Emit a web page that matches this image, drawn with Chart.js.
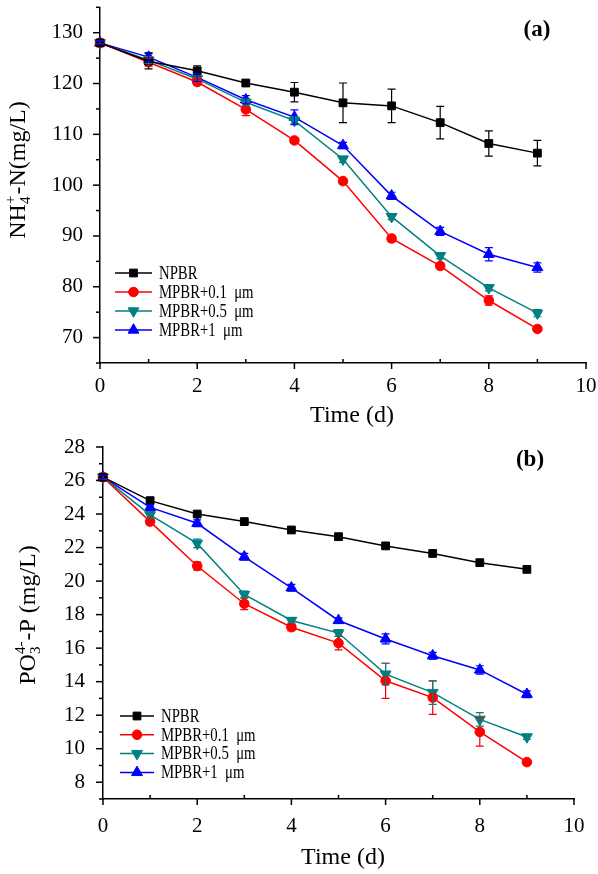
<!DOCTYPE html>
<html>
<head>
<meta charset="utf-8">
<script src="https://cdn.jsdelivr.net/npm/chart.js@4.4.1/dist/chart.umd.min.js"></script>
<style>
  body { margin: 0; background: #fff; }
  .panel { width: 598px; height: 437px; }
</style>
</head>
<body>
<div class="panel"><canvas id="ca" width="598" height="437"></canvas></div>
<div class="panel"><canvas id="cb" width="598" height="437"></canvas></div>
<script>
// sampling days
var days = [0, 1, 2, 3, 4, 5, 6, 7, 8, 9];
var seriesNames = ['NPBR', 'MPBR+0.1 μm', 'MPBR+0.5 μm', 'MPBR+1 μm'];

// (a) NH4+-N (mg/L)
var nNPBR    = [128.0, 124.4, 122.5, 120.1, 118.3, 116.2, 115.6, 112.3, 108.2, 106.3];
var nErrNPBR = [0.4, 1.5, 1.0, 0.5, 1.9, 3.9, 3.3, 3.2, 2.5, 2.5];
var nM01     = [128.0, 124.2, 120.3, 114.9, 108.8, 100.8, 89.5, 84.1, 77.3, 71.7];
var nErrM01  = [0.3, 0.8, 0.6, 1.2, 0.5, 0.4, 0.6, 0.6, 0.9, 0.4];
var nM05     = [128.0, 124.6, 120.9, 116.3, 112.7, 105.1, 93.8, 86.1, 79.8, 74.8];
var nErrM05  = [0.3, 0.7, 0.6, 0.7, 0.8, 0.6, 0.6, 0.6, 0.6, 0.7];
var nM1      = [128.0, 125.2, 121.2, 116.8, 113.4, 107.8, 97.9, 90.9, 86.4, 83.8];
var nErrM1   = [0.3, 0.9, 0.8, 0.8, 1.4, 0.6, 0.7, 0.8, 1.3, 0.9];

// (b) PO4-P (mg/L)
var pNPBR    = [26.2, 24.8, 24.0, 23.55, 23.05, 22.65, 22.1, 21.65, 21.1, 20.7];
var pErrNPBR = [0.1, 0.1, 0.1, 0.1, 0.1, 0.1, 0.1, 0.1, 0.1, 0.1];
var pM01     = [26.2, 23.55, 20.9, 18.65, 17.25, 16.3, 14.05, 13.05, 11.0, 9.2];
var pErrM01  = [0.1, 0.2, 0.25, 0.35, 0.2, 0.4, 1.05, 1.0, 0.85, 0.1];
var pM05     = [26.2, 23.95, 22.25, 19.2, 17.65, 16.9, 14.45, 13.35, 11.75, 10.7];
var pErrM05  = [0.1, 0.2, 0.25, 0.2, 0.15, 0.2, 0.65, 0.7, 0.4, 0.15];
var pM1      = [26.2, 24.4, 23.45, 21.45, 19.6, 17.65, 16.55, 15.55, 14.7, 13.25];
var pErrM1   = [0.1, 0.15, 0.2, 0.2, 0.2, 0.15, 0.3, 0.2, 0.25, 0.2];

var colors = ['#000000', '#ff0000', '#008080', '#0000ff'];
var styles = ['rect', 'circle', 'triangle', 'triangle'];
var rotations = [0, 0, 180, 0];
var radii = [5.5, 4.8, 6.3, 6.3];

var SERIF = "'Liberation Serif', 'DejaVu Serif', serif";

function makeSet(i, values, errs) {
    return {
        label: seriesNames[i],
        data: values.map(function(v, k) { return {x: days[k], y: v}; }),
        errs: errs,
        borderColor: colors[i],
        backgroundColor: colors[i],
        pointStyle: styles[i],
        pointRotation: rotations[i],
        pointRadius: radii[i],
        pointBorderWidth: 1,
        borderWidth: 1.5,
        tension: 0,
        clip: false
    };
}

// error bars, tick marks, legend, titles
var deco = {
    id: 'deco',
    afterDatasetsDraw: function(chart) {
        var ctx = chart.ctx, ys = chart.scales.y;
        ctx.save();
        ctx.lineWidth = 1.2;
        chart.data.datasets.forEach(function(ds, di) {
            var meta = chart.getDatasetMeta(di);
            ctx.strokeStyle = ds.borderColor;
            ds.errs.forEach(function(e, k) {
                var x = meta.data[k].x;
                var yt = ys.getPixelForValue(ds.data[k].y + e);
                var yb = ys.getPixelForValue(ds.data[k].y - e);
                ctx.beginPath();
                ctx.moveTo(x, yt); ctx.lineTo(x, yb);
                ctx.moveTo(x - 4, yt); ctx.lineTo(x + 4, yt);
                ctx.moveTo(x - 4, yb); ctx.lineTo(x + 4, yb);
                ctx.stroke();
            });
        });
        ctx.restore();
    },
    afterDraw: function(chart, args, o) {
        var ctx = chart.ctx, xs = chart.scales.x, ys = chart.scales.y;
        var area = chart.chartArea;
        ctx.save();
        ctx.strokeStyle = '#000';
        ctx.lineWidth = 1.5;
        // x ticks: major outward, minor inward
        xs.ticks.forEach(function(t) {
            var px = xs.getPixelForValue(t.value);
            var major = t.label !== '';
            ctx.beginPath();
            ctx.moveTo(px, area.bottom);
            ctx.lineTo(px, major ? area.bottom + 6 : area.bottom - 4);
            ctx.stroke();
        });
        ys.ticks.forEach(function(t) {
            var py = ys.getPixelForValue(t.value);
            var major = t.label !== '';
            ctx.beginPath();
            ctx.moveTo(area.left, py);
            ctx.lineTo(area.left - (major ? 7 : 4), py);
            ctx.stroke();
        });

        // legend
        var lg = o.legend;
        chart.data.datasets.forEach(function(ds, di) {
            var y = lg.y + di * lg.gap;
            ctx.strokeStyle = ds.borderColor;
            ctx.fillStyle = ds.backgroundColor;
            ctx.lineWidth = 1.5;
            ctx.beginPath();
            ctx.moveTo(lg.x, y); ctx.lineTo(lg.x + lg.len, y);
            ctx.stroke();
            ctx.lineWidth = 1;
            Chart.helpers.drawPoint(ctx, {pointStyle: ds.pointStyle, rotation: ds.pointRotation,
                radius: ds.pointRadius, borderWidth: 1}, lg.x + lg.len / 2, y);
            ctx.save();
            ctx.fillStyle = '#000';
            ctx.font = '18px ' + SERIF;
            ctx.textBaseline = 'middle';
            ctx.translate(lg.x + lg.len + 7, y);
            ctx.scale(0.82, 1);
            ctx.fillText(ds.label.replace(' ', '  '), 0, 1);
            ctx.restore();
        });

        ctx.fillStyle = '#000';
        // panel label
        ctx.font = 'bold 23px ' + SERIF;
        ctx.textAlign = 'center';
        ctx.textBaseline = 'middle';
        ctx.fillText(o.tag.text, o.tag.x, o.tag.y);
        // x title
        ctx.font = '24px ' + SERIF;
        ctx.fillText('Time (d)', o.xTitle.x, o.xTitle.y);

        // y title with sub/superscripts, rotated
        var parts = o.yTitle.parts;
        var big = '24px ' + SERIF, small = '15px ' + SERIF;
        var widths = parts.map(function(p) {
            if (p.t) { ctx.font = big; return ctx.measureText(p.t).width; }
            ctx.font = small;
            return Math.max(ctx.measureText(p.sub || '').width, ctx.measureText(p.sup || '').width) + 1;
        });
        var total = widths.reduce(function(a, b) { return a + b; }, 0);
        ctx.translate(o.yTitle.x, o.yTitle.y);
        ctx.rotate(-Math.PI / 2);
        ctx.textAlign = 'left';
        ctx.textBaseline = 'alphabetic';
        var cx = -total / 2;
        parts.forEach(function(p, i) {
            if (p.t) {
                ctx.font = big;
                ctx.fillText(p.t, cx, 0);
            } else {
                ctx.font = small;
                if (p.sub) ctx.fillText(p.sub, cx, 5);
                if (p.sup) ctx.fillText(p.sup, cx, -10);
            }
            cx += widths[i];
        });
        ctx.restore();
    }
};

function baseOptions(o) {
    return {
        responsive: false,
        animation: false,
        layout: {padding: o.padding},
        plugins: {
            legend: {display: false},
            tooltip: {enabled: false},
            deco: o.deco
        },
        scales: {
            x: {
                type: 'linear',
                min: 0, max: 10,
                ticks: {
                    stepSize: 1, autoSkip: false, maxRotation: 0,
                    color: '#000', padding: o.xPad,
                    font: {family: SERIF, size: 21},
                    callback: function(v) { return v % 2 === 0 ? String(v) : ''; }
                },
                grid: {display: false, drawTicks: false},
                border: {display: true, color: '#000', width: 1.5},
                afterFit: function(s) { s.height = o.xHeight; s.paddingLeft = 0; s.paddingRight = 0; }
            },
            y: {
                min: o.yMin, max: o.yMax,
                ticks: {
                    stepSize: o.yStep, autoSkip: false,
                    color: '#000', padding: o.yPad,
                    font: {family: SERIF, size: 21},
                    callback: o.yLabel
                },
                grid: {display: false, drawTicks: false},
                border: {display: true, color: '#000', width: 1.5},
                afterFit: function(s) { s.width = o.yWidth; s.paddingTop = 0; s.paddingBottom = 0; }
            }
        }
    };
}

new Chart(document.getElementById('ca'), {
    type: 'line',
    data: {datasets: [
        makeSet(0, nNPBR, nErrNPBR),
        makeSet(1, nM01, nErrM01),
        makeSet(2, nM05, nErrM05),
        makeSet(3, nM1, nErrM1)
    ]},
    options: baseOptions({
        padding: {top: 3, right: 12, left: 0, bottom: 0},
        xHeight: 74, yWidth: 100, xPad: 11, yPad: 17,
        yMin: 65, yMax: 135, yStep: 5,
        yLabel: function(v) { return (v % 10 === 0) ? String(v) : ''; },
        deco: {
            legend: {x: 115, y: 273, gap: 19, len: 37},
            tag: {text: '(a)', x: 537, y: 30},
            xTitle: {x: 352, y: 416},
            yTitle: {x: 25, y: 170, parts: [{t: 'NH'}, {sub: '4', sup: '+'}, {t: '-N(mg/L)'}]}
        }
    }),
    plugins: [deco]
});

new Chart(document.getElementById('cb'), {
    type: 'line',
    data: {datasets: [
        makeSet(0, pNPBR, pErrNPBR),
        makeSet(1, pM01, pErrM01),
        makeSet(2, pM05, pErrM05),
        makeSet(3, pM1, pErrM1)
    ]},
    options: baseOptions({
        padding: {top: 10, right: 24, left: 0, bottom: 0},
        xHeight: 75, yWidth: 103, xPad: 15, yPad: 18,
        yMin: 7, yMax: 28, yStep: 1,
        yLabel: function(v) { return (v % 2 === 0) ? String(v) : ''; },
        deco: {
            legend: {x: 120, y: 279, gap: 18.8, len: 34},
            tag: {text: '(b)', x: 530, y: 23},
            xTitle: {x: 343, y: 421},
            yTitle: {x: 35, y: 178, parts: [{t: 'PO'}, {sub: '3', sup: '4-'}, {t: '-P (mg/L)'}]}
        }
    }),
    plugins: [deco]
});
</script>
</body>
</html>
